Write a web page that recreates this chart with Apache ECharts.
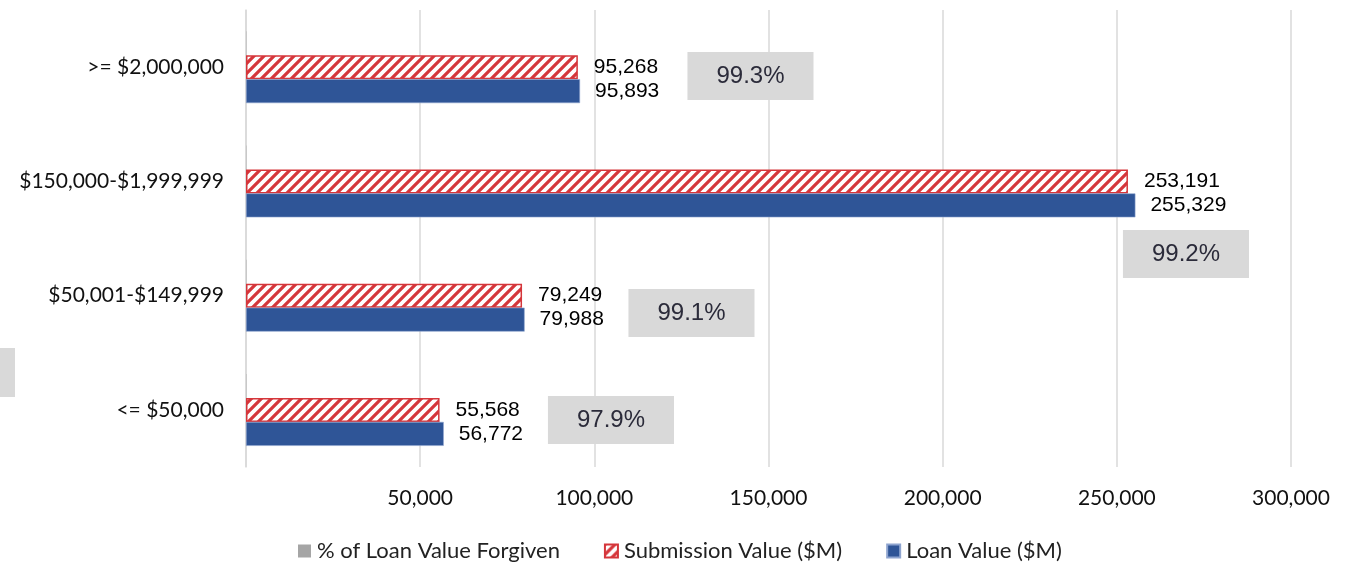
<!DOCTYPE html>
<html>
<head>
<meta charset="utf-8">
<script src="https://cdn.jsdelivr.net/npm/echarts@6/dist/echarts.min.js"></script>
<style>
html,body{margin:0;padding:0;background:#fff;}
#chart{width:1355px;height:562px;}
</style>
</head>
<body>
<div id="chart"></div>
<script>
// ---- data ----
const categories = ['<= $50,000', '$50,001-$149,999', '$150,000-$1,999,999', '>= $2,000,000'];
const loanValue = [56772, 79988, 255329, 95893];
const submissionValue = [55568, 79249, 253191, 95268];
const pctForgiven = [97.9, 99.1, 99.2, 99.3];
const xTicks = { min: 0, max: 300000, interval: 50000 };
const seriesNames = ['% of Loan Value Forgiven', 'Submission Value ($M)', 'Loan Value ($M)'];

// layout of the manually placed % labels (pixel offsets from the bar slot)
const pctLabelOffsets = [[364.8, 34.1], [445.3, 41.4], [939.8, 96.6], [504.3, 32.9]];

// hatch pattern
function makeHatch() {
  const c = document.createElement('canvas');
  c.width = 10; c.height = 10;
  const g = c.getContext('2d');
  g.fillStyle = '#ffffff';
  g.fillRect(0, 0, 10, 10);
  g.strokeStyle = '#d5363b';
  g.lineWidth = 3.2;
  g.beginPath();
  g.moveTo(-2, 12); g.lineTo(12, -2);
  g.moveTo(-7, 7); g.lineTo(7, -7);
  g.moveTo(3, 17); g.lineTo(17, 3);
  g.stroke();
  return c;
}
const hatch = makeHatch();

const fmt = v => v.toLocaleString('en-US');
const labelFont = 'Liberation Sans';
const uiFont = 'Lato';

const chart = echarts.init(document.getElementById('chart'), null, { renderer: 'canvas' });
chart.setOption({
  animation: false,
  backgroundColor: '#ffffff',
  grid: { left: 246, right: 64, top: 10, bottom: 95, containLabel: false },
  legend: {
    top: 540,
    left: 298,
    padding: 0,
    itemWidth: 13,
    itemHeight: 13,
    itemGap: 44,
    textStyle: { fontFamily: uiFont, fontSize: 22, lineHeight: 22, color: '#222', padding: [0, 0, 0, 1] },
    data: [
      { name: seriesNames[0], icon: 'rect', itemStyle: { color: '#a5a5a5', borderWidth: 0 } },
      { name: seriesNames[1], icon: 'rect' },
      { name: seriesNames[2], icon: 'rect' }
    ]
  },
  xAxis: {
    type: 'value',
    min: xTicks.min, max: xTicks.max, interval: xTicks.interval,
    axisLine: { show: false },
    axisTick: { show: false },
    axisLabel: {
      showMinLabel: false,
      margin: 21,
      fontFamily: uiFont, fontSize: 21, color: '#111',
      formatter: v => fmt(v)
    },
    splitLine: { show: true, lineStyle: { color: '#d9d9d9', width: 1.5 } }
  },
  yAxis: {
    type: 'category',
    data: categories,
    axisLine: { show: true, lineStyle: { color: '#d9d9d9', width: 1.5 } },
    axisTick: { show: false },
    axisLabel: { margin: 22, fontFamily: uiFont, fontSize: 21, color: '#111', verticalAlign: 'middle' },
    splitLine: { show: false }
  },
  series: [
    {
      name: seriesNames[0],
      type: 'bar',
      barWidth: 24,
      barGap: '0%',
      data: pctForgiven.map((v, i) => ({
        value: v,
        label: { offset: pctLabelOffsets[i] }
      })),
      itemStyle: { color: '#a5a5a5' },
      label: {
        show: true, position: 'inside',
        backgroundColor: '#d9d9d9',
        padding: [12, 29],
        fontFamily: labelFont, fontSize: 24, lineHeight: 24, color: '#2b2b3a',
        formatter: p => p.value.toFixed(1) + '%'
      }
    },
    {
      name: seriesNames[1],
      type: 'bar',
      data: submissionValue,
      barWidth: 24,
      barGap: '0%',
      itemStyle: { color: { image: hatch, repeat: 'repeat' }, borderColor: '#d5363b', borderWidth: 1.5 },
      label: {
        show: true, position: 'right', distance: 16,
        fontFamily: labelFont, fontSize: 21, color: '#000',
        formatter: p => fmt(p.value)
      }
    },
    {
      name: seriesNames[2],
      type: 'bar',
      data: loanValue,
      barWidth: 24,
      barGap: '0%',
      itemStyle: { color: '#2f5597', borderColor: '#8ea4cf', borderWidth: 0.6 },
      label: {
        show: true, position: 'right', distance: 15,
        fontFamily: labelFont, fontSize: 21, color: '#000',
        formatter: p => fmt(p.value)
      }
    }
  ],
  graphic: [
    { type: 'rect', left: 0, top: 348, shape: { width: 15, height: 49 }, style: { fill: '#d9d9d9' } }
  ]
});
</script>
</body>
</html>
